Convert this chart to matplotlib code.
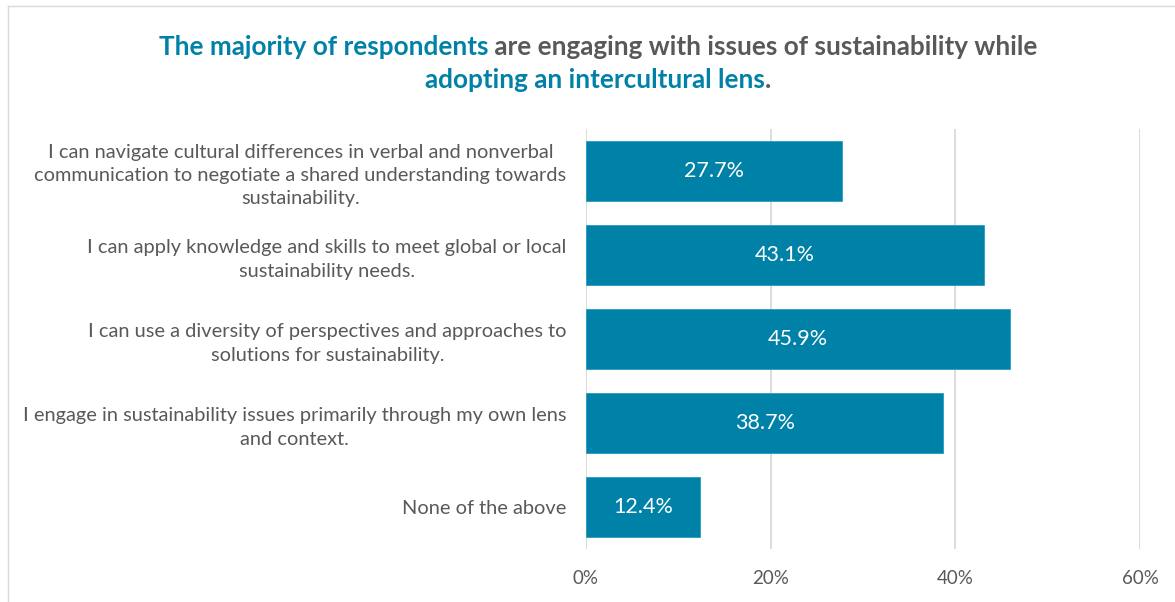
import matplotlib
matplotlib.use('Agg')
import matplotlib.pyplot as plt
from matplotlib.lines import Line2D

plt.rcParams['font.family'] = ['Lato', 'DejaVu Sans']

categories = [
    "I can navigate cultural differences in verbal and nonverbal\ncommunication to negotiate a shared understanding towards\nsustainability.",
    "I can apply knowledge and skills to meet global or local\nsustainability needs.",
    "I can use a diversity of perspectives and approaches to\nsolutions for sustainability.",
    "I engage in sustainability issues primarily through my own lens\nand context.",
    "None of the above",
]
values = [27.7, 43.1, 45.9, 38.7, 12.4]
xticks = [0, 20, 40, 60]

teal = '#0081A7'
gray = '#595959'

fig = plt.figure(figsize=(11.75, 6.02), dpi=100)
ax = fig.add_axes([0.4987, 0.088, 0.4715, 0.698])

ypos = list(range(len(categories)))
bars = ax.barh(ypos, values, height=0.714, color=teal, edgecolor='#2a9ac0', linewidth=0.6, zorder=3)
for b, v in zip(bars, values):
    ax.text(v / 2, b.get_y() + b.get_height() / 2, f"{v:.1f}%", color='white',
            ha='center', va='center', fontsize=15.5, zorder=4)

ax.set_ylim(len(categories) - 0.5, -0.5)
ax.set_xlim(0, 60)
ax.set_xticks(xticks)
ax.set_xticklabels([f"{t}%" for t in xticks], color=gray, fontsize=13.5)
ax.set_yticks(ypos)
ax.set_yticklabels(categories, color=gray, fontsize=14.4, multialignment='center',
                   linespacing=1.45)
ax.tick_params(axis='both', length=0)
ax.tick_params(axis='y', pad=14)
ax.tick_params(axis='x', pad=15)
ax.xaxis.grid(True, color='#d9d9d9', linewidth=1.3, zorder=0)
for s in ax.spines.values():
    s.set_visible(False)

# chart frame
fig.add_artist(Line2D([8 / 1175, 8 / 1175], [0, 1 - 6 / 602], color='#d9d9d9', lw=1, transform=fig.transFigure))
fig.add_artist(Line2D([8 / 1175, 1], [1 - 6 / 602, 1 - 6 / 602], color='#d9d9d9', lw=1, transform=fig.transFigure))

# two-colour title, built piece by piece
renderer = fig.canvas.get_renderer()
lines = [
    [("The majority of respondents", teal), (" are engaging with issues of sustainability while", gray)],
    [("adopting an intercultural lens", teal), (".", gray)],
]
line_y = [1 - 47 / 602, 1 - 80 / 602]
cx = 598 / 1175
for parts, y in zip(lines, line_y):
    texts = []
    for s, c in parts:
        t = fig.text(0, y, s, color=c, fontsize=18.8, fontweight='bold', va='center', ha='left')
        texts.append(t)
    widths = [t.get_window_extent(renderer).width / fig.bbox.width for t in texts]
    x = cx - sum(widths) / 2
    for t, w in zip(texts, widths):
        t.set_x(x)
        x += w

fig.savefig('out.png', dpi=100)
